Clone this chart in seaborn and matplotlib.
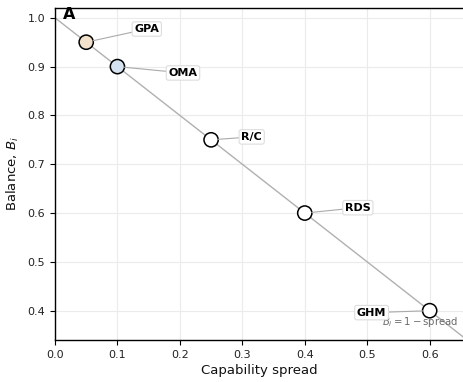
import matplotlib
matplotlib.use("Agg")
import matplotlib.pyplot as plt
import seaborn as sns
import pandas as pd
import numpy as np

methods = ["GPA", "OMA", "R/C", "RDS", "GHM"]
spread = [0.05, 0.10, 0.25, 0.40, 0.60]
balance = [0.95, 0.90, 0.75, 0.60, 0.40]
colors = ["#f2e2cc", "#d5e3f0", "#ffffff", "#ffffff", "#ffffff"]
label_x = [0.147, 0.205, 0.315, 0.485, 0.507]
label_y = [0.977, 0.887, 0.756, 0.611, 0.396]
line_x = [0.0, 0.70]

sns.set_style("ticks")
plt.rcParams['font.family'] = ['DejaVu Sans']

fig = plt.figure(figsize=(4.64, 3.82), dpi=100)
ax = fig.add_axes([0.1185, 0.110, 0.8815, 0.869])

df = pd.DataFrame({"method": methods, "spread": spread, "balance": balance})
lx = np.array(line_x)
sns.lineplot(x=lx, y=1 - lx, ax=ax, color="#b0b0b0", lw=1.0, zorder=1)
sns.scatterplot(data=df, x="spread", y="balance", hue="method", palette=dict(zip(methods, colors)),
                s=105, edgecolor="black", linewidth=1.1, ax=ax, legend=False, zorder=3)

for m, x, y, tx, ty in zip(methods, spread, balance, label_x, label_y):
    ax.annotate(m, xy=(x, y), xytext=(tx, ty), ha="center", va="center",
                fontsize=8, fontweight="bold", color="black",
                bbox=dict(boxstyle="round,pad=0.2", fc="white", ec="#dddddd", lw=0.8),
                arrowprops=dict(arrowstyle="-", color="#aaaaaa", lw=0.8, shrinkA=0, shrinkB=5),
                zorder=4)

ax.text(0.646, 0.376, r"$B_i = 1 - \mathrm{spread}$", ha="right", va="center",
        fontsize=7.3, color="#6a6a6a")
ax.text(0.012, 1.007, "A", fontsize=11.5, fontweight="bold", ha="left", va="center", color="black")

ax.set_xlim(0, 0.655)
ax.set_ylim(0.34, 1.02)
ax.set_xticks([0, 0.1, 0.2, 0.3, 0.4, 0.5, 0.6])
ax.set_yticks([0.4, 0.5, 0.6, 0.7, 0.8, 0.9, 1.0])
ax.grid(True, color="#ebebeb", lw=0.8)
ax.set_axisbelow(True)
ax.spines["right"].set_visible(False)
for s in ["left", "bottom", "top"]:
    ax.spines[s].set_color("black")
    ax.spines[s].set_linewidth(1.0)
ax.tick_params(labelsize=8, color="black", length=3.5, labelcolor="#222222")
ax.set_xlabel("Capability spread", fontsize=9.5, color="#111111", labelpad=3)
ax.set_ylabel(r"Balance, $B_i$", fontsize=9.5, color="#111111", labelpad=5)

fig.savefig("out.png", dpi=100)
